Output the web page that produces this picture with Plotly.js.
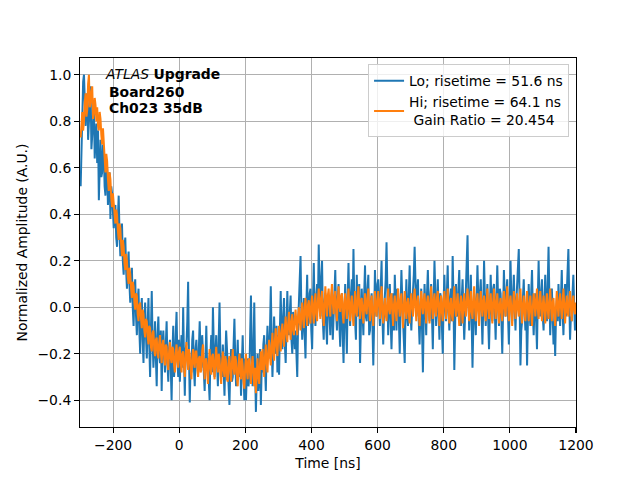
<!DOCTYPE html>
<html>
<head>
<meta charset="utf-8">
<script src="https://cdn.plot.ly/plotly-3.0.1.min.js"></script>
<style>html,body{margin:0;padding:0;background:#fff;}#chart{width:640px;height:480px;}</style>
</head>
<body>
<div id="chart"></div>
<script>
// Sampled waveforms: time of first sample and sample step in ns
const timeStart = -298;
const timeStep = 2.5;

// Lo gain waveform (normalized)
const loValues = [
  0.52, 0.66, 0.88, 0.97, 1.00, 0.84, 0.78, 0.90, 0.92, 0.72, 0.80, 0.86, 0.95, 0.68, 0.74, 0.83, 0.86, 0.64, 0.70, 0.79,
  0.62, 0.76, 0.46, 0.68, 0.72, 0.56, 0.58, 0.70, 0.66, 0.52, 0.48, 0.63, 0.60, 0.44, 0.54, 0.58, 0.38, 0.52, 0.49, 0.40,
  0.34, 0.40, 0.44, 0.30, 0.26, 0.38, 0.48, 0.32, 0.22, 0.28, 0.36, 0.20, 0.14, 0.26, 0.30, 0.16, 0.08, 0.18, 0.24, 0.10,
  0.02, 0.10, 0.17, 0.00, -0.08, 0.06, 0.12, -0.04, -0.12, 0.03, 0.08, -0.10, -0.20, -0.02, 0.04, -0.14, -0.24, -0.06, 0.02, -0.12,
  -0.22, -0.08, 0.04, -0.16, -0.30, -0.10, 0.07, -0.14, -0.26, -0.18, -0.06, -0.22, -0.34, -0.12, -0.04, -0.20, -0.24, -0.10, -0.36, -0.16,
  -0.10, -0.20, -0.28, -0.16, -0.06, -0.24, -0.32, -0.18, -0.14, -0.26, -0.40, -0.20, -0.08, -0.30, -0.24, -0.12, -0.02, -0.22, -0.30, -0.14,
  -0.32, -0.20, -0.12, -0.26, 0.00, -0.22, -0.38, -0.18, -0.16, -0.06, 0.11, -0.20, -0.41, -0.24, -0.28, -0.14, -0.10, -0.26, -0.34, -0.18,
  -0.14, -0.24, -0.30, -0.18, -0.06, -0.20, -0.26, -0.12, -0.18, -0.28, -0.36, -0.16, -0.08, -0.26, -0.22, -0.32, -0.40, -0.20, -0.12, -0.28,
  0.00, -0.16, -0.30, -0.20, -0.12, -0.24, -0.34, -0.14, 0.02, -0.20, -0.24, -0.30, -0.16, -0.28, -0.38, -0.22, -0.10, -0.18, -0.26, -0.32,
  -0.42, -0.26, -0.18, -0.32, -0.30, -0.16, -0.05, -0.22, -0.34, -0.24, -0.14, -0.30, -0.26, -0.20, -0.38, -0.16, -0.12, -0.28, -0.40, -0.22,
  -0.40, -0.28, -0.22, -0.34, -0.30, -0.12, 0.05, -0.18, -0.34, -0.20, 0.02, -0.26, -0.45, -0.30, -0.20, -0.36, -0.30, -0.18, -0.42, -0.26,
  -0.28, -0.16, -0.12, -0.26, -0.36, -0.18, -0.08, -0.20, -0.22, -0.10, 0.09, -0.14, -0.30, -0.18, -0.04, -0.16, -0.20, -0.08, -0.28, -0.12,
  -0.29, -0.10, 0.07, -0.12, -0.18, -0.04, 0.04, -0.16, -0.24, -0.08, 0.07, -0.10, -0.12, -0.02, 0.05, -0.14, -0.20, -0.02, -0.08, -0.18,
  -0.10, -0.18, -0.30, -0.08, 0.02, 0.10, 0.22, -0.02, -0.14, -0.06, 0.04, -0.12, -0.22, 0.00, 0.14, -0.08, -0.06, 0.06, 0.08, -0.10,
  -0.18, 0.02, 0.19, -0.02, -0.08, 0.04, 0.10, 0.00, 0.27, 0.08, -0.04, 0.12, 0.20, -0.06, -0.14, 0.02, 0.06, -0.08, -0.16, 0.04,
  0.04, -0.04, -0.12, 0.02, 0.08, -0.14, -0.06, 0.06, 0.16, -0.02, -0.10, 0.04, 0.10, -0.08, -0.17, 0.00, 0.06, -0.12, -0.24, -0.04,
  0.10, -0.06, -0.20, 0.04, 0.19, 0.00, -0.08, 0.06, 0.12, -0.02, 0.25, 0.02, -0.06, -0.14, 0.14, -0.04, 0.04, 0.10, -0.24, -0.06,
  0.08, -0.02, -0.12, 0.06, 0.18, -0.04, -0.06, 0.08, 0.14, -0.12, -0.10, 0.02, 0.06, -0.08, -0.25, -0.06, 0.16, 0.02, -0.04, 0.10,
  0.12, 0.00, -0.08, 0.08, 0.20, -0.04, -0.16, -0.02, 0.04, 0.12, 0.28, 0.02, -0.12, 0.04, 0.10, -0.06, -0.18, -0.04, 0.06, -0.10,
  0.14, 0.02, -0.10, 0.08, 0.06, -0.06, -0.20, 0.00, 0.16, 0.04, -0.06, -0.14, -0.24, -0.02, 0.12, -0.04, -0.08, 0.06, 0.18, -0.02,
  -0.10, 0.00, 0.06, 0.14, 0.26, 0.04, -0.04, 0.06, 0.12, -0.06, -0.16, -0.02, 0.08, -0.10, -0.28, -0.04, 0.10, 0.00, -0.12, 0.06,
  0.16, 0.02, -0.06, 0.04, 0.10, -0.04, -0.18, 0.02, 0.20, 0.06, -0.08, 0.00, 0.12, -0.02, -0.14, 0.06, 0.04, -0.08, -0.20, 0.02,
  0.14, 0.00, -0.06, 0.06, 0.18, -0.02, -0.10, 0.04, 0.08, -0.06, 0.22, 0.04, -0.27, -0.08, 0.10, -0.02, -0.04, 0.08, 0.16, -0.04,
  -0.08, 0.04, 0.12, -0.02, -0.14, -0.04, 0.08, 0.16, 0.31, 0.06, -0.10, 0.02, 0.14, -0.06, -0.26, -0.08, 0.06, -0.02, -0.12, 0.04,
  0.18, 0.04, -0.04, 0.06, 0.12, -0.02, -0.16, 0.00, 0.20, 0.04, -0.08, 0.02, 0.10, -0.06, -0.18, -0.02, 0.14, 0.00, -0.06, 0.08,
  0.10, -0.02, -0.14, 0.04, 0.18, 0.02, -0.08, 0.08, 0.06, -0.06, -0.20, -0.02, 0.16, 0.04, -0.04, 0.06, 0.12, -0.04, -0.16, 0.02,
  0.20, 0.04, -0.06, 0.04, 0.14, 0.00, -0.10, 0.02, 0.08, 0.14, 0.25, 0.02, -0.25, -0.10, -0.06, 0.04, 0.12, -0.02, -0.10, 0.00,
  -0.25, -0.06, 0.10, -0.02, -0.08, 0.06, 0.16, -0.02, -0.12, 0.00, 0.06, -0.06, -0.18, 0.04, 0.20, 0.02, -0.04, 0.06, 0.12, -0.04,
  -0.10, 0.02, 0.14, 0.00, -0.06, 0.10, 0.26, 0.04, -0.12, -0.02, 0.08, -0.04, -0.16, -0.06, -0.21, -0.04, 0.04, -0.06, 0.10, 0.00,
  -0.08, 0.04, 0.16, -0.02, -0.12, 0.00, 0.10, -0.04, 0.06, 0.12, 0.25, 0.04, -0.14, -0.04, -0.06, 0.06, 0.14, 0.00, -0.10, -0.02
];

// Hi gain waveform (normalized)
const hiValues = [
  0.73, 0.79, 0.84, 0.76, 0.80, 0.88, 0.92, 0.82, 0.85, 0.96, 1.00, 0.86, 0.88, 0.93, 0.95, 0.81, 0.83, 0.90, 0.87, 0.80,
  0.86, 0.78, 0.76, 0.84, 0.81, 0.74, 0.70, 0.77, 0.72, 0.64, 0.58, 0.66, 0.63, 0.55, 0.50, 0.58, 0.55, 0.47, 0.43, 0.49,
  0.45, 0.39, 0.36, 0.42, 0.40, 0.33, 0.29, 0.36, 0.34, 0.27, 0.22, 0.29, 0.26, 0.19, 0.16, 0.23, 0.20, 0.13, 0.10, 0.17,
  0.14, 0.08, 0.04, 0.11, 0.09, 0.02, -0.01, 0.06, 0.05, -0.03, -0.06, 0.01, 0.02, -0.05, -0.09, -0.01, -0.03, -0.10, -0.13, -0.05,
  -0.06, -0.12, -0.16, -0.08, -0.09, -0.17, -0.19, -0.11, -0.10, -0.18, -0.21, -0.14, -0.13, -0.20, -0.22, -0.15, -0.12, -0.19, -0.24, -0.16,
  -0.14, -0.21, -0.25, -0.16, -0.17, -0.24, -0.27, -0.19, -0.15, -0.22, -0.24, -0.17, -0.18, -0.25, -0.28, -0.20, -0.16, -0.23, -0.26, -0.19,
  -0.17, -0.23, -0.28, -0.20, -0.19, -0.25, -0.30, -0.21, -0.15, -0.22, -0.27, -0.18, -0.20, -0.26, -0.31, -0.22, -0.18, -0.24, -0.26, -0.19,
  -0.19, -0.25, -0.30, -0.22, -0.21, -0.28, -0.27, -0.19, -0.16, -0.24, -0.31, -0.23, -0.22, -0.28, -0.33, -0.24, -0.18, -0.26, -0.29, -0.21,
  -0.20, -0.26, -0.31, -0.22, -0.17, -0.25, -0.28, -0.20, -0.22, -0.29, -0.33, -0.24, -0.19, -0.27, -0.30, -0.21, -0.24, -0.31, -0.32, -0.23,
  -0.21, -0.27, -0.32, -0.24, -0.18, -0.26, -0.29, -0.21, -0.23, -0.30, -0.34, -0.25, -0.20, -0.28, -0.31, -0.22, -0.25, -0.32, -0.35, -0.26,
  -0.20, -0.27, -0.31, -0.23, -0.22, -0.29, -0.33, -0.25, -0.21, -0.28, -0.34, -0.26, -0.37, -0.29, -0.22, -0.30, -0.33, -0.24, -0.19, -0.27,
  -0.18, -0.25, -0.30, -0.21, -0.16, -0.24, -0.28, -0.19, -0.14, -0.21, -0.25, -0.17, -0.11, -0.19, -0.23, -0.14, -0.09, -0.16, -0.21, -0.13,
  -0.08, -0.14, -0.19, -0.11, -0.07, -0.13, -0.17, -0.09, -0.04, -0.11, -0.15, -0.07, -0.02, -0.09, -0.14, -0.06, -0.03, -0.10, -0.12, -0.05,
  -0.01, -0.07, -0.12, -0.04, 0.00, -0.06, -0.10, -0.02, 0.02, -0.05, -0.09, 0.00, 0.04, -0.03, -0.08, 0.01, 0.03, -0.04, -0.07, 0.02,
  0.05, -0.02, -0.07, 0.02, 0.06, -0.03, -0.06, 0.03, 0.08, 0.00, -0.05, 0.04, 0.07, -0.02, -0.08, 0.01, 0.09, 0.02, -0.04, 0.05,
  0.08, 0.01, -0.04, 0.05, 0.10, 0.02, -0.03, 0.04, 0.07, -0.01, -0.06, 0.03, 0.09, 0.00, -0.02, 0.05, 0.06, -0.03, -0.07, 0.02,
  0.06, 0.00, -0.05, 0.03, 0.08, -0.01, -0.06, 0.02, 0.05, -0.03, -0.08, 0.01, 0.07, -0.02, -0.04, 0.04, 0.09, 0.01, -0.05, 0.03,
  0.04, -0.02, -0.07, 0.01, 0.06, -0.01, -0.03, 0.04, 0.08, 0.00, -0.06, 0.02, 0.05, -0.03, -0.08, 0.00, 0.07, -0.01, -0.04, 0.03,
  0.07, 0.01, -0.05, 0.03, 0.09, -0.02, -0.07, 0.00, 0.04, -0.03, -0.06, 0.02, 0.08, -0.01, -0.03, 0.04, 0.06, -0.02, -0.08, 0.01,
  0.05, -0.01, -0.06, 0.02, 0.08, 0.00, -0.04, 0.03, 0.06, -0.02, -0.09, 0.01, 0.07, -0.01, -0.05, 0.02, 0.04, -0.03, -0.07, 0.02,
  0.06, 0.00, -0.04, 0.03, 0.08, 0.01, -0.06, 0.02, 0.05, -0.02, -0.08, 0.00, 0.07, 0.02, -0.03, 0.03, 0.06, -0.01, -0.07, 0.02,
  0.05, -0.01, -0.07, 0.02, 0.09, 0.01, -0.05, 0.03, 0.06, -0.02, -0.04, 0.04, 0.07, 0.00, -0.08, 0.01, 0.05, -0.02, -0.06, 0.03,
  0.07, 0.01, -0.05, 0.02, 0.08, 0.00, -0.07, 0.01, 0.04, -0.03, -0.06, 0.03, 0.09, 0.00, -0.04, 0.02, 0.06, -0.02, -0.08, 0.01,
  0.05, 0.00, -0.07, 0.02, 0.06, -0.01, -0.04, 0.03, 0.08, 0.01, -0.06, 0.02, 0.07, -0.02, -0.05, 0.03, 0.09, 0.00, -0.06, 0.02,
  0.06, -0.01, -0.08, 0.01, 0.07, 0.00, -0.04, 0.03, 0.05, -0.02, -0.06, 0.02, 0.08, 0.00, -0.05, 0.02, 0.06, -0.01, -0.07, 0.02,
  0.08, 0.01, -0.05, 0.02, 0.06, -0.01, -0.07, 0.01, 0.04, -0.02, -0.06, 0.02, 0.07, 0.00, -0.04, 0.03, 0.09, 0.01, -0.06, 0.02,
  0.05, -0.01, -0.08, 0.00, 0.07, 0.01, -0.05, 0.02, 0.06, -0.01, -0.04, 0.03, 0.08, 0.00, -0.07, 0.01, 0.05, -0.02, -0.06, 0.02,
  0.07, 0.00, -0.06, 0.01, 0.05, -0.02, -0.08, 0.00, 0.06, 0.02, -0.04, 0.03, 0.08, -0.01, -0.05, 0.02, 0.07, 0.00, -0.06, 0.01,
  0.05, -0.01, -0.07, 0.01, 0.06, -0.01, -0.05, 0.02, 0.08, 0.00, -0.06, 0.02, 0.04, -0.03, -0.08, 0.00, 0.07, 0.01, -0.04, 0.02,
  0.06, 0.00, -0.05, 0.02, 0.08, 0.01, -0.07, 0.00, 0.05, -0.02, -0.04, 0.03, 0.07, 0.00, -0.06, 0.02, 0.05, -0.01, -0.03, 0.02
];

const seriesNames = [
  "Lo; risetime = 51.6 ns",
  "Hi; risetime = 64.1 ns<br>\u00a0Gain Ratio = 20.454"
];
const xTicks = [-200, 0, 200, 400, 600, 800, 1000, 1200];
const yTicks = [-0.4, -0.2, 0.0, 0.2, 0.4, 0.6, 0.8, 1.0];

const FONT = "DejaVu Sans, Liberation Sans, sans-serif";
const FS = 13.9;

const traces = [
  {
    type: "scatter", mode: "lines", name: seriesNames[0],
    x0: timeStart, dx: timeStep, y: loValues,
    line: {color: "#1f77b4", width: 2}
  },
  {
    type: "scatter", mode: "lines", name: seriesNames[1],
    x0: timeStart, dx: timeStep, y: hiValues,
    line: {color: "#ff7f0e", width: 2}
  }
];

const axisCommon = {
  showline: true, linecolor: "#000", linewidth: 1.1, mirror: true,
  ticks: "outside", ticklen: 4.9, tickwidth: 1.1, tickcolor: "#000",
  showgrid: true, gridcolor: "#b0b0b0", gridwidth: 1.1,
  zeroline: false,
  tickfont: {family: FONT, size: FS, color: "#000"}
};

const layout = {
  width: 640, height: 480,
  paper_bgcolor: "#fff", plot_bgcolor: "#fff",
  margin: {l: 80, r: 64, t: 57.6, b: 52.8},
  font: {family: FONT, size: FS, color: "#000"},
  showlegend: true,
  legend: {
    x: 0.986, xanchor: "right", y: 0.983, yanchor: "top",
    bgcolor: "rgba(255,255,255,0.8)", bordercolor: "#cccccc", borderwidth: 1,
    font: {family: FONT, size: FS, color: "#000"},
    tracegroupgap: 0
  },
  xaxis: Object.assign({}, axisCommon, {
    range: [-300, 1200], tickvals: xTicks, tickformat: "d",
    title: {text: "Time [ns]", font: {family: FONT, size: FS, color: "#000"}, standoff: 6}
  }),
  yaxis: Object.assign({}, axisCommon, {
    range: [-0.515, 1.072], tickvals: yTicks, tickformat: ".1f",
    title: {text: "Normalized Amplitude (A.U.)", font: {family: FONT, size: FS, color: "#000"}, standoff: 6}
  }),
  annotations: [
    {xref: "paper", yref: "paper", x: 0.046, y: 0.9556, xanchor: "left", yanchor: "middle",
     text: "<i>ATLAS</i> <b>Upgrade</b>", showarrow: false, font: {family: FONT, size: FS, color: "#000"}},
    {xref: "paper", yref: "paper", x: 0.055, y: 0.9078, xanchor: "left", yanchor: "middle",
     text: "<b>Board260</b>", showarrow: false, font: {family: FONT, size: FS, color: "#000"}},
    {xref: "paper", yref: "paper", x: 0.055, y: 0.8645, xanchor: "left", yanchor: "middle",
     text: "<b>Ch023 35dB</b>", showarrow: false, font: {family: FONT, size: FS, color: "#000"}}
  ]
};

Plotly.newPlot("chart", traces, layout, {displayModeBar: false, staticPlot: true});
</script>
</body>
</html>
